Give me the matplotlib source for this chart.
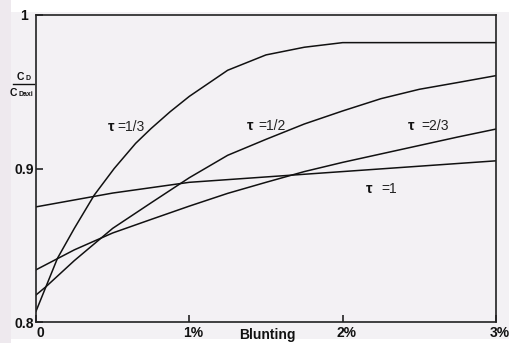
import matplotlib
matplotlib.use("Agg")
import matplotlib.pyplot as plt
import matplotlib.transforms as mtrans
from matplotlib.patches import Rectangle
from matplotlib.lines import Line2D

# ---- data (blunting in %, Cd/Cdaxi) ----
x_1_3 = [0, 0.065, 0.14, 0.25, 0.38, 0.51, 0.65, 0.75, 0.875, 1.0, 1.25, 1.5, 1.75, 2.0, 2.5, 3.0]
y_1_3 = [0.807, 0.823, 0.8415, 0.861, 0.8827, 0.900, 0.9164, 0.926, 0.937, 0.947, 0.964, 0.974, 0.979, 0.982, 0.982, 0.982]

x_1_2 = [0, 0.065, 0.25, 0.5, 0.75, 1.0, 1.25, 1.5, 1.75, 2.0, 2.25, 2.5, 2.75, 3.0]
y_1_2 = [0.8176, 0.823, 0.840, 0.861, 0.8776, 0.894, 0.9086, 0.919, 0.929, 0.9375, 0.9455, 0.9516, 0.956, 0.9605]

x_2_3 = [0, 0.25, 0.5, 0.75, 1.0, 1.25, 1.5, 1.75, 2.0, 2.25, 2.5, 2.75, 3.0]
y_2_3 = [0.834, 0.847, 0.858, 0.8668, 0.8755, 0.8838, 0.891, 0.898, 0.904, 0.9095, 0.915, 0.9205, 0.9257]

x_1 = [0, 0.25, 0.5, 0.75, 1.0, 1.5, 2.0, 2.5, 3.0]
y_1 = [0.875, 0.8795, 0.884, 0.8875, 0.891, 0.8945, 0.898, 0.9015, 0.905]

xticks = [0, 1, 2, 3]
xticklabels = ["0", "1%", "2%", "3%"]
yticks = [0.8, 0.9, 1.0]
yticklabels = ["0.8", "0.9", "1"]

series = [(x_1_3, y_1_3), (x_1_2, y_1_2), (x_2_3, y_2_3), (x_1, y_1)]
labels = [("=1/3", 0.4676, 0.528, 0.9272), ("=1/2", 1.374, 1.448, 0.9277),
          ("=2/3", 2.428, 2.516, 0.9277), ("=1", 2.150, 2.255, 0.8868)]

W, H = 509, 343
bg = "#f3f1f4"
fig = plt.figure(figsize=(W / 100, H / 100), dpi=100, facecolor=bg)
plt.rcParams["font.family"] = ["Liberation Sans", "DejaVu Sans"]

# decorative background strips
fig.patches.append(Rectangle((0, 0), 11 / W, 1, transform=fig.transFigure,
                             facecolor="#eee9ee", edgecolor="none", zorder=-10))
fig.patches.append(Rectangle((11 / W, 1 - 12 / H), 1, 12 / H, transform=fig.transFigure,
                             facecolor="white", edgecolor="none", zorder=-10))
fig.patches.append(Rectangle((11 / W, 0), 1, 4 / H, transform=fig.transFigure,
                             facecolor="white", edgecolor="none", zorder=-10))

ax = fig.add_axes([36 / W, 1 - 322 / H, (496 - 36) / W, (322 - 15) / H])
ax.set_facecolor(bg)

for xs, ys in series:
    ax.plot(xs, ys, color="#111111", lw=1.1, solid_joinstyle="round")

ax.set_xlim(0, 3)
ax.set_ylim(0.8, 1.0)

for sp in ax.spines.values():
    sp.set_color("#222222")
    sp.set_linewidth(1.2)

ax.set_xticks(xticks)
ax.set_xticklabels(xticklabels, fontsize=10, fontweight="bold")
ax.set_yticks(yticks)
ax.set_yticklabels(yticklabels, fontsize=10, fontweight="bold")
ax.tick_params(axis="x", direction="in", length=5, width=1.1, pad=3, colors="#111111")
ax.tick_params(axis="y", direction="in", length=5, width=1.1, pad=1.5, colors="#111111")
offset = mtrans.ScaledTranslation(3 / 72, 0, fig.dpi_scale_trans)
for lbl in ax.get_xticklabels():
    lbl.set_transform(lbl.get_transform() + offset)
ylbls = ax.get_yticklabels()
ylbls[-1].set_transform(ylbls[-1].get_transform() +
                        mtrans.ScaledTranslation(-4 / 72, 0, fig.dpi_scale_trans))

fig.text(267 / W, 1 - 335 / H, "Blunting", ha="center", va="center",
         fontsize=10, fontweight="bold", color="#111111")

for txt, xt, xe, yv in labels:
    ax.text(xt, yv, "τ", ha="left", va="center", fontsize=10.5, fontweight="bold", color="#111111")
    ax.text(xe, yv, txt, ha="left", va="center", fontsize=10, color="#222222")

# y-axis label as fraction C_D / C_Daxi
def fx(px):
    return px / W

def fy(py):
    return 1 - py / H

fig.text(fx(16.5), fy(80.5), "C", fontsize=7.5, fontweight="bold", ha="left", va="baseline", color="#111111")
fig.text(fx(25), fy(80.5), "D", fontsize=5, fontweight="bold", ha="left", va="baseline", color="#111111")
fig.lines.append(Line2D([fx(12.5), fx(33.5)], [fy(83.5), fy(83.5)], transform=fig.transFigure,
                        color="#111111", lw=1.0))
fig.text(fx(9.5), fy(96.5), "C", fontsize=7.5, fontweight="bold", ha="left", va="baseline", color="#111111")
fig.text(fx(18.3), fy(96.5), "Daxi", fontsize=5, fontweight="bold", ha="left", va="baseline", color="#111111")

fig.savefig("out.png", dpi=100, facecolor=fig.get_facecolor())
